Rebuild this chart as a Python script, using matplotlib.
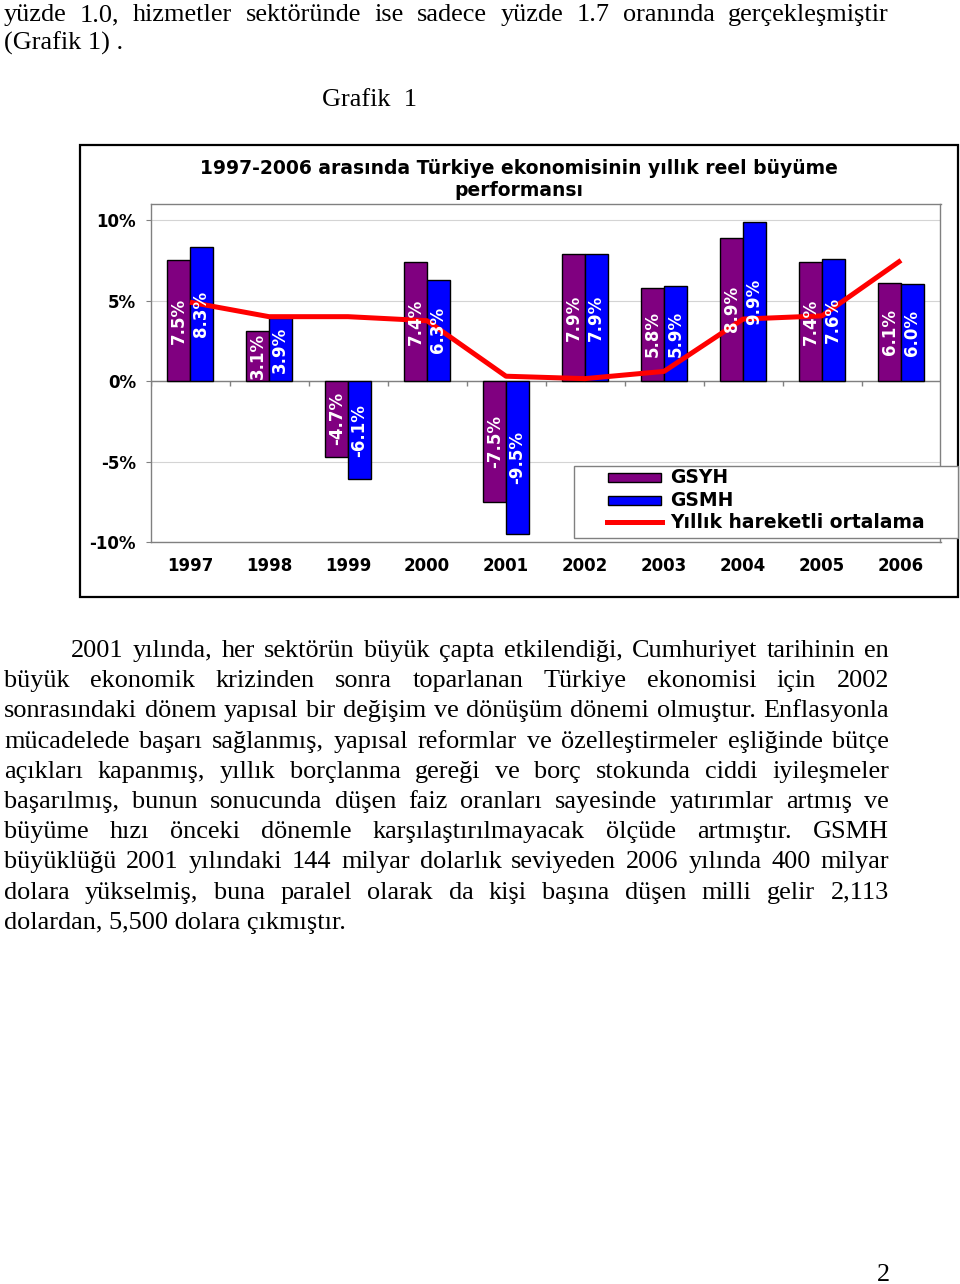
import matplotlib
matplotlib.use("Agg")
import matplotlib.pyplot as plt
from matplotlib.patches import Rectangle
from matplotlib.lines import Line2D
import numpy as np

# ---------------- data ----------------
years = ['1997', '1998', '1999', '2000', '2001', '2002', '2003', '2004', '2005', '2006']
gsyh = [7.5, 3.1, -4.7, 7.4, -7.5, 7.9, 5.8, 8.9, 7.4, 6.1]
gsmh = [8.3, 3.9, -6.1, 6.3, -9.5, 7.9, 5.9, 9.9, 7.6, 6.0]
ortalama = [4.9, 4.0, 4.0, 3.75, 0.3, 0.15, 0.6, 3.85, 4.05, 7.5]
yticks = [-10, -5, 0, 5, 10]
ytick_labels = ['-10%', '-5%', '0%', '5%', '10%']
series_names = ['GSYH', 'GSMH', 'Yıllık hareketli ortalama']
chart_title = "1997-2006 arasında Türkiye ekonomisinin yıllık reel büyüme\nperformansı"

top_line1 = "yüzde 1.0, hizmetler sektöründe ise sadece yüzde 1.7 oranında gerçekleşmiştir"
top_line2 = "(Grafik 1) ."
grafik_caption = "Grafik  1"
paragraph = [
    "2001 yılında, her sektörün büyük çapta etkilendiği, Cumhuriyet tarihinin en",
    "büyük ekonomik krizinden sonra toparlanan Türkiye ekonomisi için 2002",
    "sonrasındaki dönem yapısal bir değişim ve dönüşüm dönemi olmuştur. Enflasyonla",
    "mücadelede başarı sağlanmış, yapısal reformlar ve özelleştirmeler eşliğinde bütçe",
    "açıkları kapanmış, yıllık borçlanma gereği ve borç stokunda ciddi iyileşmeler",
    "başarılmış, bunun sonucunda düşen faiz oranları sayesinde yatırımlar artmış ve",
    "büyüme hızı önceki dönemle karşılaştırılmayacak ölçüde artmıştır. GSMH",
    "büyüklüğü 2001 yılındaki 144 milyar dolarlık seviyeden 2006 yılında 400 milyar",
    "dolara yükselmiş, buna paralel olarak da kişi başına düşen milli gelir 2,113",
    "dolardan, 5,500 dolara çıkmıştır.",
]
page_number = "2"

# ---------------- figure ----------------
W, H = 960, 1284
fig = plt.figure(figsize=(W / 100, H / 100), dpi=100)
fig.patch.set_facecolor('white')


def fx(px):
    return px / W


def fy(py):
    return 1 - py / H


SANS = ['DejaVu Sans']
SERIF = ['Liberation Serif', 'DejaVu Serif']
CFS = 12
TFS = 13.5

# ---------------- chart ----------------
ax = fig.add_axes([fx(150.5), fy(542), 790 / W, 338 / H])
x = np.arange(len(years))
bw = 0.285
ax.bar(x - bw / 2, gsyh, bw, color='#800080', edgecolor='black', linewidth=1, zorder=3)
ax.bar(x + bw / 2, gsmh, bw, color='#0000ff', edgecolor='black', linewidth=1, zorder=3)
ax.plot(x, ortalama, color='#ff0000', linewidth=3.6, zorder=4, solid_capstyle='butt')

for xi, v in zip(x - bw / 2, gsyh):
    ax.text(xi, v / 2, f'{v:.1f}%', rotation=90, ha='center', va='center',
            color='white', fontweight='bold', fontsize=CFS, family=SANS, zorder=5)
for xi, v in zip(x + bw / 2, gsmh):
    ax.text(xi, v / 2, f'{v:.1f}%', rotation=90, ha='center', va='center',
            color='white', fontweight='bold', fontsize=CFS, family=SANS, zorder=5)

ax.set_xlim(-0.5, len(years) - 0.5)
ax.set_ylim(-10, 11)
ax.set_yticks(yticks, ytick_labels)
ax.set_xticks(x, years)
ax.yaxis.grid(True, color='#d4d4d4', linewidth=0.8)
ax.set_axisbelow(True)
ax.axhline(0, color='#808080', linewidth=1, zorder=2)
ax.vlines(np.arange(-0.5, len(years), 1), 0, -0.32, color='#808080', linewidth=1, zorder=2)
for s in ax.spines.values():
    s.set_color('#808080')
    s.set_linewidth(1)
ax.tick_params(axis='x', length=0, pad=11)
ax.tick_params(axis='y', length=3.6, color='#808080', pad=6.8)
for lab in ax.get_xticklabels() + ax.get_yticklabels():
    lab.set_fontweight('bold')
    lab.set_fontsize(CFS)
    lab.set_family(SANS)

fig.text(fx(519), fy(179.5), chart_title, ha='center', va='center', fontweight='bold',
         fontsize=TFS, family=SANS, linespacing=1.2)

# outer chart frame
fig.add_artist(Rectangle((fx(80), fy(597)), (958 - 80) / W, (597 - 145) / H,
                         transform=fig.transFigure, fill=False, edgecolor='black',
                         linewidth=1.6, zorder=6))

# legend
fig.add_artist(Rectangle((fx(574), fy(538)), (958 - 574) / W, (538 - 466) / H,
                         transform=fig.transFigure, facecolor='white', edgecolor='#808080',
                         linewidth=1, zorder=6))
fig.add_artist(Rectangle((fx(608), fy(482)), 53 / W, 9 / H, transform=fig.transFigure,
                         facecolor='#800080', edgecolor='black', linewidth=1, zorder=7))
fig.add_artist(Rectangle((fx(608), fy(505)), 53 / W, 9 / H, transform=fig.transFigure,
                         facecolor='#0000ff', edgecolor='black', linewidth=1, zorder=7))
fig.add_artist(Line2D([fx(607), fx(662)], [fy(522), fy(522)], transform=fig.transFigure,
                      color='#ff0000', linewidth=3.6, zorder=7))
for name, yy in zip(series_names, [477.5, 500.5, 522]):
    fig.text(fx(670), fy(yy), name, ha='left', va='center', fontweight='bold',
             fontsize=TFS, family=SANS, zorder=8)

# ---------------- body text ----------------
renderer = fig.canvas.get_renderer()
probe = fig.text(0, 0, paragraph[-1], fontsize=10, family=SERIF)
pw = probe.get_window_extent(renderer).width
probe.remove()
FS = 10 * 342 / pw


def put(txt, xpx, basepx, ha='left'):
    return fig.text(fx(xpx), fy(basepx), txt, ha=ha, va='baseline', fontsize=FS, family=SERIF)


def justify(line, x0, x1, basepx):
    words = line.split()
    texts = [put(w, 0, basepx) for w in words]
    widths = [t.get_window_extent(renderer).width for t in texts]
    gap = (x1 - x0 - sum(widths)) / max(len(words) - 1, 1)
    gap = max(gap, 3)
    xx = x0
    for t, w in zip(texts, widths):
        t.set_position((fx(xx), fy(basepx)))
        xx += w + gap


justify(top_line1, 4, 889, 21)
put(top_line2, 4, 50)
put(grafik_caption, 322, 106)

for i, line in enumerate(paragraph):
    base = 657 + 30.2 * i
    x0 = 71 if i == 0 else 4
    if i == len(paragraph) - 1:
        put(line, x0, base)
    else:
        justify(line, x0, 889, base)

put(page_number, 883, 1281, ha='center')

fig.savefig('out.png', dpi=100, facecolor='white')
